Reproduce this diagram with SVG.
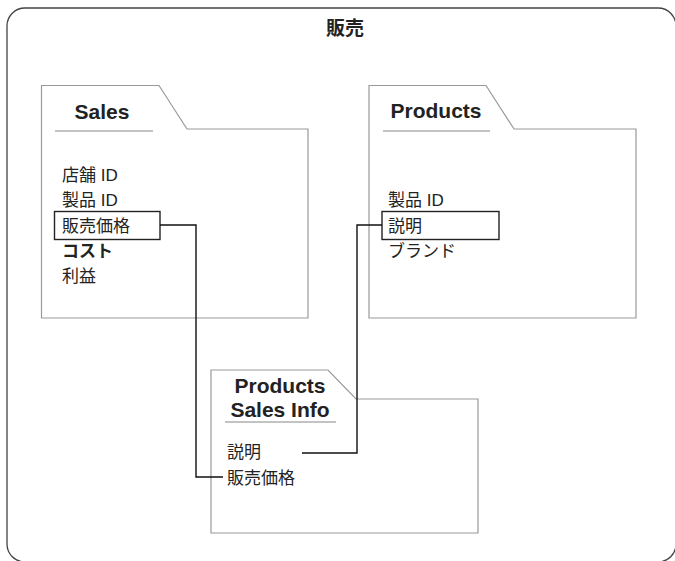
<svg xmlns="http://www.w3.org/2000/svg" width="675" height="561" viewBox="0 0 675 561">
<style>
text{font-family:"Liberation Sans","Noto Sans CJK JP",sans-serif;fill:#222;}
.frame{fill:none;stroke:#444;stroke-width:1.3;}
.folder{fill:#fff;stroke:#999;stroke-width:1.2;}
.uline{stroke:#888;stroke-width:1.2;}
.title{font-size:21px;font-weight:bold;text-anchor:middle;}
.item{font-size:17px;}
.hl{fill:none;stroke:#222;stroke-width:1.4;}
.conn{fill:none;stroke:#111;stroke-width:1.4;}
</style>
<rect fill="#fff" width="675" height="561"/>
<g id="frame">
<rect class="frame" x="7" y="8" width="669" height="554" rx="18" ry="18"/>
<text x="345" y="35" style="font-size:19px;font-weight:bold;" text-anchor="middle">販売</text>
</g>
<g id="sales">
<path class="folder" d="M41.5,85.5 H159 L187,129 H308 V318 H41.5 Z"/>
<text class="title" x="102" y="119">Sales</text>
<line class="uline" x1="55" y1="131" x2="153" y2="131"/>
<text class="item" x="62" y="181">店舗 ID</text>
<text class="item" x="62" y="206">製品 ID</text>
<rect class="hl" x="54.5" y="211.5" width="105.5" height="28"/>
<text class="item" x="62" y="232">販売価格</text>
<text class="item" x="62" y="257" font-weight="bold">コスト</text>
<text class="item" x="62" y="282">利益</text>
</g>
<g id="products">
<path class="folder" d="M369,85.5 H486 L514,129 H636 V318 H369 Z"/>
<text class="title" x="436" y="118">Products</text>
<line class="uline" x1="383" y1="131" x2="490" y2="131"/>
<text class="item" x="388" y="206">製品 ID</text>
<rect class="hl" x="382" y="211.5" width="117" height="28"/>
<text class="item" x="388" y="232">説明</text>
<text class="item" x="388" y="257">ブランド</text>
</g>
<g id="products-sales-info">
<path class="folder" d="M211,370 H328 L356,399 H478 V533 H211 Z"/>
<text class="title" x="280" y="393">Products</text>
<text class="title" x="280" y="417">Sales Info</text>
<line class="uline" x1="225" y1="422" x2="336" y2="422"/>
<text class="item" x="227" y="458">説明</text>
<text class="item" x="227" y="484">販売価格</text>
</g>
<g id="connectors">
<path class="conn" d="M160,225 H196 V477 H223"/>
<path class="conn" d="M382,225 H357 V453 H302"/>
</g>
</svg>
